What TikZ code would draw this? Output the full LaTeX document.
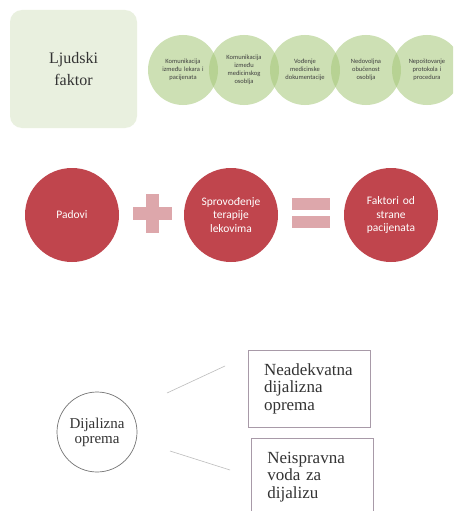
\documentclass[tikz,border=0pt]{standalone}
\usepackage{fontspec}
\setmainfont{Liberation Serif}
\newfontfamily\calfont{Carlito}
\usetikzlibrary{positioning}

\definecolor{boxgreen}{RGB}{233,240,223}
\definecolor{ringgreen}{RGB}{165,200,120}
\definecolor{padred}{RGB}{192,69,77}
\definecolor{signpink}{RGB}{221,167,171}
\definecolor{edgegray}{RGB}{160,160,160}
\definecolor{boxedge}{RGB}{168,154,168}

\newcommand\greenr{35pt}
\newcommand\redr{47pt}

\tikzset{
  greencirc/.style={circle,minimum size=2*\greenr,fill=ringgreen,fill opacity=0.55,
    text opacity=1,text width=50pt,align=center,inner sep=0pt,
    font=\calfont\fontsize{6.5}{8}\selectfont,text=black!75},
  redcirc/.style={circle,minimum size=2*\redr,fill=padred,text=white,
    text width=70pt,align=center,inner sep=0pt,font=\calfont\fontsize{11.5}{13.3}\selectfont},
  signbar/.style={fill=signpink,draw=none},
  causebox/.style={draw=boxedge,line width=0.8pt,minimum width=122pt,minimum height=77pt,
    text width=90pt,align=left,inner sep=0pt,font=\fontsize{17}{17.5}\selectfont,text=black!80},
  thinline/.style={draw=edgegray!70,line width=0.6pt}
}

\begin{document}
\begin{tikzpicture}[x=1pt,y=-1pt]
  \clip (0,0) rectangle (453,511);
  \fill[white] (0,0) rectangle (453,511);

  \node[fill=boxgreen,rounded corners=12pt,minimum width=127pt,minimum height=118pt,
    align=center,font=\fontsize{16}{22}\selectfont,text=black!80] (ljudski) at (73.5,69) {Ljudski\\ faktor};

  \node[greencirc] (kom1) at (183,70) {Komunikacija\\ izme\dj u lekara i\\ pacijenata};
  \node[greencirc] (kom2) at (244,70) {Komunikacija\\ izme\dj u\\ medicinskog\\ osoblja};
  \node[greencirc] (vod)  at (305,70) {Vo\dj enje\\ medicinske\\ dokumentacije};
  \node[greencirc] (ned)  at (366,70) {Nedovoljna\\ obu\v cenost\\ osoblja};
  \node[greencirc] (nep)  at (427,70) {Nepo\v stovanje\\ protokola i\\ procedura};

  \node[redcirc] (padovi) at (72,215) {Padovi};
  \node[redcirc] (terapija) at (231,215) {Sprovo\dj enje\\ terapije\\ lekovima};
  \node[redcirc] (faktori) at (391,215) {Faktori od\\ strane\\ pacijenata};

  \fill[signbar] (146,194) rectangle (159,233);
  \fill[signbar] (133,207) rectangle (172,220);
  \fill[signbar] (292,198) rectangle (330,210);
  \fill[signbar] (292,216) rectangle (330,228);

  \node[circle,draw=black!55,line width=0.7pt,minimum size=80pt,align=center,
    font=\fontsize{15}{15}\selectfont,text=black!80] (dijal) at (97,432) {Dijalizna\\ oprema};

  \node[causebox] (neadek) at (309,388.5) {Neadekvatna\\ dijalizna\\ oprema};
  \node[causebox,anchor=north west] (neisp) at (251,438) {Neispravna\\ voda za\\ dijalizu};

  \coordinate (up1) at (167,393);
  \coordinate (up2) at (225,366);
  \coordinate (dn1) at (170,451);
  \coordinate (dn2) at (230,470);
  \draw[thinline] (up1) -- (up2);
  \draw[thinline] (dn1) -- (dn2);
\end{tikzpicture}
\end{document}
